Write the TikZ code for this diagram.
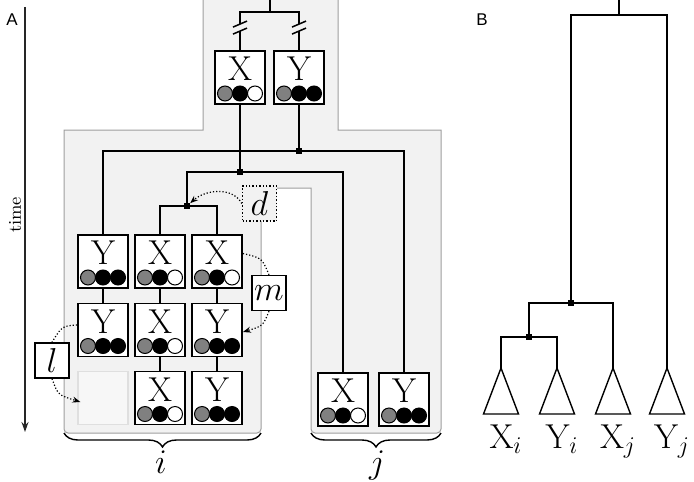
\documentclass[tikz,border=0pt]{standalone}
\usepackage{fontspec}
\newfontfamily\panelfont{Liberation Sans}
\usetikzlibrary{arrows.meta,calc,decorations.pathreplacing}
\definecolor{regionfill}{gray}{0.95}
\definecolor{regionline}{gray}{0.62}

\begin{document}
\begin{tikzpicture}[x=0.5pt, y=-0.5pt,
  >={Stealth[length=4pt, width=3pt]},
  tree/.style={line width=0.75pt},
  indiv/.style={draw, line width=0.9pt, fill=white, minimum width=25pt, minimum height=26.5pt, inner sep=0pt},
  ghost/.style={indiv, draw=gray!25, fill=gray!6, line width=0.6pt},
  letter/.style={inner sep=0pt, font=\fontsize{17.28}{17.28}\selectfont},
  allele/.style={line width=0.5pt},
  junction/.style={rectangle, fill, inner sep=0pt, minimum size=2.75pt},
  param/.style={draw, line width=0.7pt, fill=white, minimum width=17pt, minimum height=17.5pt, inner sep=0pt, font=\fontsize{17.28}{17.28}\selectfont},
  hop/.style={densely dotted, line width=0.6pt},
  brace/.style={decorate, decoration={brace, mirror, amplitude=7pt}, line width=0.7pt},
  panel/.style={font=\panelfont\fontsize{8.5}{10}\selectfont}]
  \useasboundingbox (0,0) rectangle (694,481);

  % Shaded region of the lineages
  \filldraw[fill=regionfill, draw=regionline, line width=0.5pt]
    (203,0) -- (203,130) -- (64,130) [rounded corners=2pt] -- (64,433) -- (261,433) -- (261,300)
    [sharp corners] -- (261,188) -- (311,188) -- (311,300) [rounded corners=2pt] -- (311,433) -- (441,433)
    -- (441,300) [sharp corners] -- (441,130) -- (338,130) -- (338,0);

  % Time axis
  \coordinate (time start) at (25,7);
  \coordinate (time end) at (25,432);
  \draw[black!85, line width=0.7pt, -{Stealth[length=5pt, width=3.5pt]}] (time start) -- (time end);
  \node[rotate=90, font=\fontsize{9}{10}\selectfont] (time label) at (15,215) {time};

  % Panel letters
  \node[panel] (A label) at (12,20) {A};
  \node[panel] (B label) at (482,20) {B};

  % Individuals (letter and three alleles)
  \foreach \n/\x/\y/\g/\c in {topX/240/77.5/X/white, topY/299/77.5/Y/black,
      r1c1/103/261.5/Y/black, r1c2/160/261.5/X/white, r1c3/217/261.5/X/white,
      r2c1/103/330/Y/black, r2c2/160/330/X/white, r2c3/217/330/Y/black,
      r3c2/160/398/X/white, r3c3/217/398/Y/black,
      jX/343/399.5/X/white, jY/404/399.5/Y/black} {
    \node[indiv] (\n) at (\x,\y) {};
    \node[letter] (\n-g) at ([yshift=4.25pt]\n.center) {\g};
    \foreach \k/\f in {-15/gray, 0/black, 15/\c}
      \filldraw[allele, fill=\f] ([xshift=\k*0.5pt, yshift=-8pt]\n.center) circle (3.75pt);
  }
  \node[ghost] (r3c1) at (103,398) {};

  % Branch points
  \coordinate (A root) at (270,0);
  \coordinate (A split) at (270,12);
  \node[junction] (outer split) at (299,151) {};
  \node[junction] (mid split) at (240,172) {};
  \node[junction] (inner split) at (187,206) {};

  % Gene tree of panel A
  \draw[tree] (A root) -- (A split);
  \draw[tree] (topX.north) |- (A split) -| (topY.north);
  \draw[tree] (topX) -- (mid split);
  \draw[tree] (topY) -- (outer split);
  \draw[tree] (r1c1.north) |- (outer split) -| (jY.north);
  \draw[tree] (inner split) |- (mid split) -| (jX.north);
  \draw[tree] (r1c2.north) |- (inner split) -| (r1c3.north);
  \draw[tree] (r1c1) -- (r2c1);
  \draw[tree] (r1c2) -- (r2c2);
  \draw[tree] (r2c2) -- (r3c2);
  \draw[tree] (r1c3) -- (r2c3);
  \draw[tree] (r2c3) -- (r3c3);

  % Breaks in the ancestral branches
  \foreach \n in {topX, topY} {
    \fill[regionfill] ($(\n.north)+(-3,-26)$) rectangle ($(\n.north)+(3,-19)$);
    \draw[tree] ($(\n.north)+(-7,-16)$) -- ++(14,-6);
    \draw[tree] ($(\n.north)+(-7,-23)$) -- ++(14,-6);
  }

  % Parameters d, m and l
  \node[param, densely dotted, fill=regionfill] (d) at (259.5,203.5) {$d$};
  \node[param] (m) at (269,293) {$m$};
  \node[param] (l) at (52,360.5) {$l$};
  \draw[hop, ->] (d.west) .. controls (232,186) and (205,190) .. (inner split);
  \draw[hop] ([yshift=4pt]r1c3.east) .. controls (262,258) .. (m.north);
  \draw[hop, ->] (m.south) .. controls (263,326) .. ([yshift=-1pt]r2c3.east);
  \draw[hop] ([yshift=2.5pt]r2c1.west) .. controls (62,326) .. (l.north);
  \draw[hop, ->] (l.south) .. controls (58,395) .. ([xshift=1.5pt, yshift=-2pt]r3c1.west);

  % Braces for the populations i and j
  \coordinate (i left) at (64,433);
  \coordinate (i right) at (261,433);
  \coordinate (j left) at (311,433);
  \coordinate (j right) at (441,433);
  \draw[brace] (i left) -- (i right);
  \draw[brace] (j left) -- (j right);
  \node[anchor=base, font=\fontsize{17.28}{18}\selectfont] (i label) at (161,473) {$i$};
  \node[anchor=base, font=\fontsize{17.28}{18}\selectfont] (j label) at (377,473) {$j$};

  % Gene tree of panel B
  \coordinate (B root) at (619,0);
  \coordinate (B top) at (619,15);
  \node[junction] (ij split) at (571,303) {};
  \node[junction] (i split) at (529,337) {};
  \foreach \n/\x/\g/\s in {Xi/501/X/i, Yi/557/Y/i, Xj/613/X/j, Yj/667/Y/j} {
    \coordinate (\n-top) at (\x,368);
    \draw[line width=0.7pt] (\n-top) -- ++(-17.5,46) -- ++(35,0) -- cycle;
    \node[anchor=base, font=\fontsize{17.28}{18}\selectfont] (\n-label) at (\x+5,448) {$\mathrm{\g}_\s$};
  }
  \draw[tree] (B root) -- (B top);
  \draw[tree] (ij split) |- (B top) -| (Yj-top);
  \draw[tree] (i split) |- (ij split) -| (Xj-top);
  \draw[tree] (Xi-top) |- (i split) -| (Yi-top);
\end{tikzpicture}
\end{document}
